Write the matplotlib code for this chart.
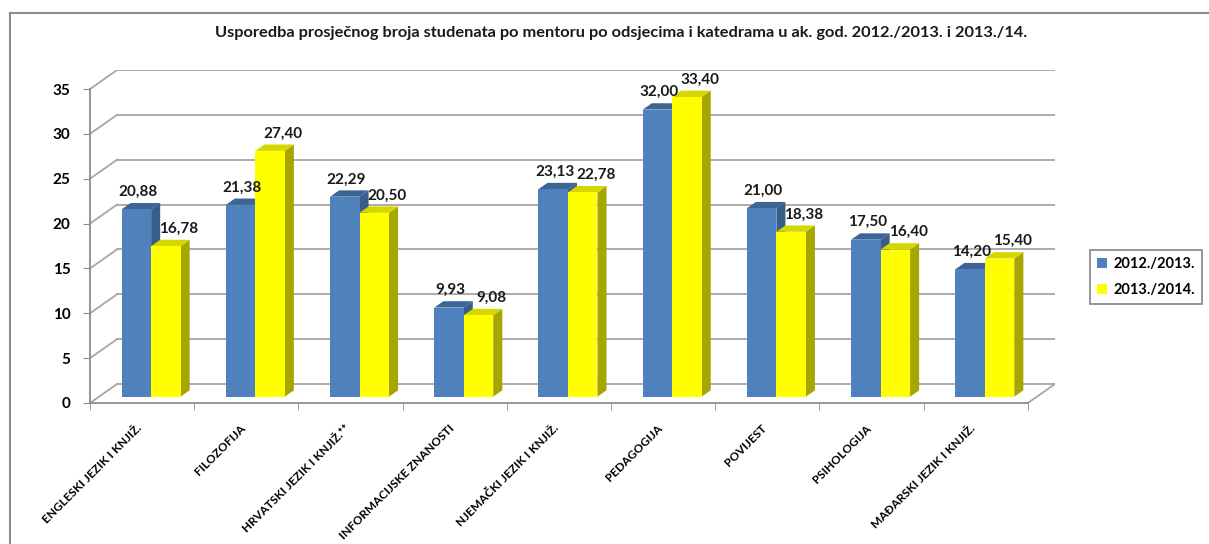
import numpy as np
import matplotlib.pyplot as plt
from matplotlib.patches import Polygon, Patch
from matplotlib.lines import Line2D

plt.rcParams['font.family'] = ['Lato', 'DejaVu Sans']

title = "Usporedba prosječnog broja studenata po mentoru po odsjecima i katedrama u ak. god. 2012./2013. i 2013./14."
categories = ["ENGLESKI JEZIK I KNJIŽ.", "FILOZOFIJA", "HRVATSKI JEZIK I KNJIŽ.**",
              "INFORMACIJSKE ZNANOSTI", "NJEMAČKI JEZIK I KNJIŽ.", "PEDAGOGIJA",
              "POVIJEST", "PSIHOLOGIJA", "MAĐARSKI JEZIK I KNJIŽ."]
series_names = ["2012./2013.", "2013./2014."]
vals_2012 = [20.88, 21.38, 22.29, 9.93, 23.13, 32.00, 21.00, 17.50, 14.20]
vals_2013 = [16.78, 27.40, 20.50, 9.08, 22.78, 33.40, 18.38, 16.40, 15.40]
y_ticks = [0, 5, 10, 15, 20, 25, 30, 35]

front_cols = ["#4F81BD", "#FFFF00"]
top_cols = ["#3C6494", "#D6D600"]
side_cols = ["#385D8A", "#A6A600"]
grid_col = "#A6A6A6"

# fake 3d depth in data units
dx, dy = 0.26, 2.12
ox, oy = dx / 3, dy / 3
bw = 0.283
label_shift = [-0.03, 0.08]

fig = plt.figure(figsize=(12.09, 5.44), dpi=100)
ax = fig.add_axes([90 / 1209, (544 - 403) / 544, 965 / 1209, (403 - 70) / 544])
n = len(categories)
ax.set_xlim(0, n + dx)
ax.set_ylim(0, 35 + dy)

# walls / grid
for y in y_ticks:
    ax.plot([dx, n + dx], [y + dy, y + dy], color=grid_col, lw=1.3, zorder=1)
    ax.plot([0, dx], [y, y + dy], color=grid_col, lw=1.3, zorder=1)
ax.plot([n, n + dx], [0, dy], color=grid_col, lw=1.3, zorder=1)

# bars
for i in range(n):
    for s, vals in enumerate([vals_2012, vals_2013]):
        v = vals[i]
        x0 = i + 0.5 - bw + s * bw + ox
        x1 = x0 + bw
        side = [(x1, oy), (x1, v + oy), (x1 + dx / 3, v + oy + dy / 3), (x1 + dx / 3, oy + dy / 3)]
        top = [(x0, v + oy), (x1, v + oy), (x1 + dx / 3, v + oy + dy / 3), (x0 + dx / 3, v + oy + dy / 3)]
        ax.add_patch(Polygon(side, closed=True, facecolor=side_cols[s], edgecolor='none', zorder=3 + s))
        ax.add_patch(Polygon(top, closed=True, facecolor=top_cols[s], edgecolor='none', zorder=3 + s))
        ax.bar(x0, v, bw, bottom=oy, align='edge', color=front_cols[s], edgecolor='none', zorder=3 + s)
        lbl = ("%.2f" % v).replace('.', ',')
        ax.text(x0 + bw / 2 + dx / 6 + label_shift[s], v + oy + dy / 3 + 0.45, lbl, ha='center', va='bottom',
                fontsize=11, fontweight='bold', color='#1a1a1a', zorder=10, clip_on=False)

# axes
for sp in ['top', 'right']:
    ax.spines[sp].set_visible(False)
ax.spines['left'].set_bounds(0, 35)
ax.spines['bottom'].set_bounds(0, n)
for sp in ['left', 'bottom']:
    ax.spines[sp].set_color('#8C8C8C')
    ax.spines[sp].set_linewidth(1.3)

ax.set_yticks(y_ticks)
ax.set_yticklabels([str(t) for t in y_ticks])
ax.tick_params(axis='y', direction='out', length=5, color='#8C8C8C', labelsize=11, pad=9)
for t in ax.get_yticklabels():
    t.set_fontweight('bold')

ax.set_xticks(np.arange(n + 1), minor=True)
ax.set_xticks(np.arange(n) + 0.44)
ax.set_xticklabels(categories, rotation=45, ha='right', rotation_mode='anchor',
                   fontsize=8.5, fontweight='bold')
ax.tick_params(axis='x', which='minor', direction='out', length=5, color='#8C8C8C')
ax.tick_params(axis='x', which='major', length=0, pad=14)

fig.text(621 / 1209, 1 - 33 / 544, title, ha='center', va='center',
         fontsize=11.8, fontweight='bold', color='#1a1a1a')

# chart border
fig.add_artist(Line2D([10 / 1209, 10 / 1209], [0, 1 - 13 / 544], transform=fig.transFigure,
                      color='#8C8C8C', lw=1.5))
fig.add_artist(Line2D([10 / 1209, 1], [1 - 13 / 544, 1 - 13 / 544], transform=fig.transFigure,
                      color='#8C8C8C', lw=1.5))

handles = [Patch(facecolor=front_cols[0]), Patch(facecolor=front_cols[1])]
leg = fig.legend(handles, series_names, loc='center', bbox_to_anchor=(1146 / 1209, 1 - 277 / 544),
                 frameon=True, fancybox=False, edgecolor='#8C8C8C', framealpha=1,
                 prop={'size': 10.5, 'weight': 'bold'}, handlelength=0.7, handleheight=0.7,
                 handletextpad=0.4, labelspacing=0.8, borderpad=0.5)
leg.get_frame().set_linewidth(1.3)

fig.savefig("out.png", dpi=100)
